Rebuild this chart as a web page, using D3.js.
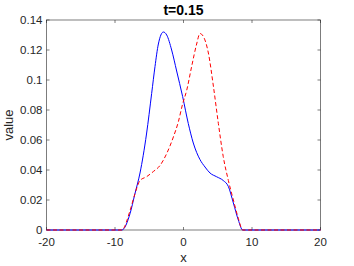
<!DOCTYPE html>
<html>
<head>
<meta charset="utf-8">
<script src="https://cdn.jsdelivr.net/npm/d3@7"></script>
<style>
  body { margin: 0; background: #fff; }
  text { font-family: "Liberation Sans", Arial, sans-serif; fill: #262626; }
</style>
</head>
<body>
<div id="chart"></div>
<script>
// values
var xs    = [-20, -10, -9, -7.8, -7.1, -6.35, -5.4, -4.65, -4.16, -3.67, -2.94, -2.45, -1.73, -1.0, -0.13, 0.7, 1.43, 2.4, 3.14, 3.87, 4.84, 5.8, 6.55, 7.28, 8.0, 8.64, 9.5, 20];
var blue  = [0, 0, 0, 0.011, 0.024, 0.038, 0.064, 0.091, 0.109, 0.124, 0.132, 0.130, 0.120, 0.106, 0.089, 0.071, 0.058, 0.047, 0.042, 0.038, 0.0355, 0.033, 0.029, 0.018, 0.0067, 0, 0, 0];
var redX  = [-20, -10, -9, -7.8, -7.1, -6.35, -5.4, -4.4, -3.43, -2.45, -1.48, -0.76, -0.13, 0.46, 1.19, 1.92, 2.4, 2.9, 3.63, 4.36, 5.09, 5.8, 6.55, 7.28, 8.0, 8.64, 9.5, 20];
var red   = [0, 0, 0, 0.013, 0.024, 0.033, 0.0355, 0.039, 0.043, 0.051, 0.062, 0.072, 0.084, 0.093, 0.109, 0.124, 0.131, 0.129, 0.118, 0.096, 0.071, 0.049, 0.033, 0.020, 0.0078, 0, 0, 0];
var xTicks = [-20, -10, 0, 10, 20];
var yTicks = [0, 0.02, 0.04, 0.06, 0.08, 0.1, 0.12, 0.14];

var width = 354, height = 266;
var margin = {left: 46.5, right: 33.5, top: 20, bottom: 36};

var svg = d3.select("#chart").append("svg")
    .attr("width", width)
    .attr("height", height);

var x = d3.scaleLinear().domain([-20, 20]).range([margin.left, width - margin.right]);
var y = d3.scaleLinear().domain([0, 0.14]).range([height - margin.bottom, margin.top]);

var g = svg.append("g");

// box
g.append("rect")
    .attr("x", x(-20)).attr("y", y(0.14))
    .attr("width", x(20) - x(-20)).attr("height", y(0) - y(0.14))
    .attr("fill", "none").attr("stroke", "#262626").attr("stroke-width", 0.6);

// ticks on all sides
var tl = 3;
xTicks.forEach(function(t){
  g.append("line").attr("x1", x(t)).attr("x2", x(t)).attr("y1", y(0)).attr("y2", y(0) - tl)
    .attr("stroke", "#262626").attr("stroke-width", 0.6);
  g.append("line").attr("x1", x(t)).attr("x2", x(t)).attr("y1", y(0.14)).attr("y2", y(0.14) + tl)
    .attr("stroke", "#262626").attr("stroke-width", 0.6);
  g.append("text").attr("x", x(t)).attr("y", y(0) + 16)
    .attr("text-anchor", "middle").attr("font-size", 11.5).text(t);
});
yTicks.forEach(function(t){
  g.append("line").attr("x1", x(-20)).attr("x2", x(-20) + tl).attr("y1", y(t)).attr("y2", y(t))
    .attr("stroke", "#262626").attr("stroke-width", 0.6);
  g.append("line").attr("x1", x(20)).attr("x2", x(20) - tl).attr("y1", y(t)).attr("y2", y(t))
    .attr("stroke", "#262626").attr("stroke-width", 0.6);
  g.append("text").attr("x", x(-20) - 4).attr("y", y(t)).attr("dy", "0.35em")
    .attr("text-anchor", "end").attr("font-size", 11.5).text(t);
});

var line = d3.line().curve(d3.curveMonotoneX);

g.append("path")
    .attr("d", line(xs.map(function(v, i){ return [x(v), y(blue[i])]; })))
    .attr("fill", "none").attr("stroke", "#0000ff").attr("stroke-width", 1);

g.append("path")
    .attr("d", line(redX.map(function(v, i){ return [x(v), y(red[i])]; })))
    .attr("fill", "none").attr("stroke", "#ff0000").attr("stroke-width", 1)
    .attr("stroke-dasharray", "4,2.5");

// labels
svg.append("text").attr("x", x(0)).attr("y", 15)
    .attr("text-anchor", "middle").attr("font-size", 14).attr("font-weight", "bold")
    .style("fill", "#000").text("t=0.15");
svg.append("text").attr("x", x(0)).attr("y", 262)
    .attr("text-anchor", "middle").attr("font-size", 13).text("x");
svg.append("text")
    .attr("transform", "translate(13," + y(0.07) + ") rotate(-90)")
    .attr("text-anchor", "middle").attr("font-size", 13).text("value");
</script>
</body>
</html>
